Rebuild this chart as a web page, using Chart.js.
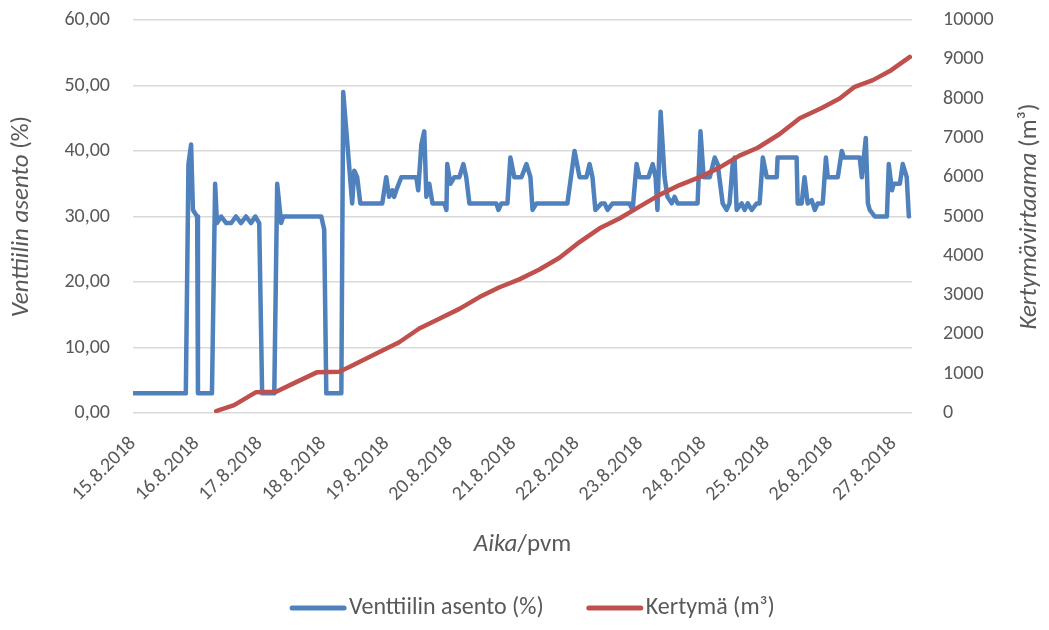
<!DOCTYPE html>
<html>
<head>
<meta charset="utf-8">
<script src="https://cdn.jsdelivr.net/npm/chart.js@4.4.1/dist/chart.umd.min.js"></script>
<style>
  html, body { margin: 0; padding: 0; background: #ffffff; }
  #wrap { width: 1049px; height: 630px; }
</style>
</head>
<body>
<div id="wrap"><canvas id="chart" width="1049" height="630"></canvas></div>
<script>
// Day labels on the time axis (one per 24 h)
const dayLabels = ['15.8.2018', '16.8.2018', '17.8.2018', '18.8.2018', '19.8.2018', '20.8.2018', '21.8.2018',
                   '22.8.2018', '23.8.2018', '24.8.2018', '25.8.2018', '26.8.2018', '27.8.2018'];

// Valve position: hours since 15.8.2018 00:00 and opening in %
const valveHours = [
  0, 20, 21, 22, 22.7, 24.3, 24.6, 29.9, 31.1, 31.8,
  33.4, 35.3, 37.2, 39, 40.9, 42.8, 44.7, 46.3, 47.8, 48.9,
  53.5, 54.6, 56.1, 56.9, 71.3, 72.4, 73.2, 78.9, 79.6, 83,
  83.8, 84.9, 86.1, 94.4, 95.9, 97, 98.2, 98.9, 99.7, 101.6,
  107.3, 108, 109.2, 110.3, 111.1, 112.2, 113.4, 117.9, 118.7, 119,
  120.2, 121.7, 123.6, 125.1, 126.2, 127.4, 137.6, 138.4, 139.5, 141.8,
  142.9, 144.4, 147.1, 149, 150.5, 151.3, 152.8, 164.5, 167.2, 169.1,
  171.7, 172.9, 174, 175.1, 177.4, 178.6, 179.7, 181.6, 188, 189.2,
  190.7, 191.8, 195.2, 196.8, 197.9, 198.6, 199.8, 201.3, 202.4, 204,
  205.1, 206.2, 213.8, 214.9, 216.1, 218.4, 220.3, 221.4, 223.3, 224.8,
  225.9, 227.1, 227.8, 228.6, 230.5, 231.6, 232.8, 234.3, 236.2, 237.3,
  238.5, 240, 243.8, 244.1, 251.3, 251.7, 253.2, 254.3, 255.5, 257,
  258.2, 259.3, 261.2, 262.4, 263.1, 266.9, 268.4, 269.2, 275.2, 276,
  277.5, 278.3, 279, 280.9, 285.5, 286.2, 287.4, 288.1, 290.4, 291.5,
  293, 293.8
];
const valvePct = [
  3, 3, 38, 41, 31, 30, 3, 3, 35, 29,
  30, 29, 29, 30, 29, 30, 29, 30, 29, 3,
  3, 35, 29, 30, 30, 28, 3, 3, 49, 32,
  37, 36, 32, 32, 36, 33, 34, 33, 34, 36,
  36, 34, 41, 43, 33, 35, 32, 32, 31, 38,
  35, 36, 36, 38, 36, 32, 32, 31, 32, 32,
  39, 36, 36, 38, 36, 31, 32, 32, 40, 36,
  36, 38, 36, 31, 32, 32, 31, 32, 32, 31,
  38, 36, 36, 38, 36, 31, 46, 36, 33, 32,
  33, 32, 32, 43, 36, 36, 39, 38, 32, 31,
  32, 38, 39, 31, 32, 31, 32, 31, 32, 32,
  39, 36, 36, 39, 39, 32, 32, 36, 32, 32.5,
  31, 32, 32, 39, 36, 36, 40, 39, 39, 36,
  42, 32, 31, 30, 30, 38, 34, 35, 35, 38,
  36, 30
];

// Cumulative flow: hours since 15.8.2018 00:00 and volume in m³
const flowHours = [
  31.5, 38.3, 46.6, 54.2, 61, 69.8, 78.1, 81.9, 85.7, 93.3,
  100.8, 108.4, 116, 123.6, 131.2, 138.8, 146.3, 153.9, 161.5, 169.1,
  176.7, 184.2, 191.8, 199.4, 207, 214.6, 222.2, 229.7, 236.6, 244.9,
  252.5, 260.8, 267.6, 273.3, 280.2, 286.6, 294.2
];
const flowM3 = [
  50, 200, 530, 540, 760, 1040, 1050, 1170, 1300, 1550,
  1800, 2150, 2400, 2650, 2950, 3200, 3400, 3650, 3950, 4350,
  4700, 4950, 5250, 5550, 5800, 6000, 6250, 6550, 6750, 7100,
  7500, 7760, 8000, 8300, 8470, 8700, 9060
];

const leftTicks = [0, 10, 20, 30, 40, 50, 60];
const rightTicks = [0, 1000, 2000, 3000, 4000, 5000, 6000, 7000, 8000, 9000, 10000];

const FONT = 'Carlito, Lato, sans-serif';
const TEXT = '#595959';
const BLUE = '#4f81bd';
const RED = '#c0504d';

// Draws a label made of differently styled pieces, centred on (cx, cy)
function drawPieces(ctx, pieces, cx, cy, angle) {
  ctx.save();
  ctx.translate(cx, cy);
  ctx.rotate(angle);
  ctx.fillStyle = TEXT;
  ctx.textBaseline = 'middle';
  ctx.textAlign = 'left';
  let total = 0;
  const widths = pieces.map(p => { ctx.font = p.font; const w = ctx.measureText(p.text).width; total += w; return w; });
  let x = -total / 2;
  pieces.forEach((p, i) => { ctx.font = p.font; ctx.fillText(p.text, x, 0); x += widths[i]; });
  ctx.restore();
}

const titlesAndLegend = {
  id: 'titlesAndLegend',
  afterDraw(chart) {
    const ctx = chart.ctx;
    const a = chart.chartArea;
    const midY = (a.top + a.bottom) / 2;
    const midX = (a.left + a.right) / 2;
    const it = 'italic 25px ' + FONT, up = '25px ' + FONT;
    drawPieces(ctx, [{ text: 'Venttiilin asento', font: it }, { text: ' (%)', font: up }], 22, midY, -Math.PI / 2);
    drawPieces(ctx, [{ text: 'Kertymävirtaama', font: it }, { text: ' (m³)', font: up }], 1030, midY, -Math.PI / 2);
    drawPieces(ctx, [{ text: 'Aika', font: it }, { text: '/pvm', font: up }], midX, 545, 0);

    // legend: line sample followed by the series name
    const lf = '24px ' + FONT, sample = 56, gap = 3, between = 43;
    ctx.save();
    ctx.font = lf;
    const items = chart.data.datasets.map(d => ({ label: d.label, color: d.borderColor, w: sample + gap + ctx.measureText(d.label).width }));
    const total = items.reduce((s, i) => s + i.w, 0) + between * (items.length - 1);
    let x = midX - total / 2 + 10;
    const y = 608;
    items.forEach(i => {
      ctx.strokeStyle = i.color;
      ctx.lineWidth = 5;
      ctx.lineCap = 'round';
      ctx.beginPath();
      ctx.moveTo(x + 2, y);
      ctx.lineTo(x + sample - 2, y);
      ctx.stroke();
      ctx.fillStyle = TEXT;
      ctx.textBaseline = 'middle';
      ctx.textAlign = 'left';
      ctx.fillText(i.label, x + sample + gap, y);
      x += i.w + between;
    });
    ctx.restore();
  }
};

// vertical axes: fixed width, and no extra room reserved above/below the plot
const fixVertical = width => s => { s.width = width; s.paddingTop = 0; s.paddingBottom = 0; };

new Chart(document.getElementById('chart'), {
  type: 'line',
  data: {
    datasets: [
      {
        label: 'Venttiilin asento (%)',
        data: valveHours.map((h, i) => ({ x: h, y: valvePct[i] })),
        borderColor: BLUE,
        backgroundColor: BLUE,
        borderWidth: 4.5,
        pointRadius: 0,
        borderJoinStyle: 'round',
        borderCapStyle: 'round',
        yAxisID: 'y',
        order: 2
      },
      {
        label: 'Kertymä (m³)',
        data: flowHours.map((h, i) => ({ x: h, y: flowM3[i] })),
        borderColor: RED,
        backgroundColor: RED,
        borderWidth: 4.5,
        pointRadius: 0,
        borderJoinStyle: 'round',
        borderCapStyle: 'round',
        yAxisID: 'y2',
        order: 1
      }
    ]
  },
  options: {
    responsive: false,
    animation: false,
    devicePixelRatio: 1,
    layout: { padding: { top: 20, right: 0, bottom: 0, left: 0 } },
    plugins: { legend: { display: false }, tooltip: { enabled: false } },
    scales: {
      x: {
        type: 'linear',
        min: 0,
        max: 295,
        afterBuildTicks: s => { s.ticks = dayLabels.map((_, i) => ({ value: i * 24 })); },
        afterFit: s => { s.height = 630 - 413; },
        ticks: {
          callback: v => dayLabels[Math.round(v / 24)],
          autoSkip: false,
          minRotation: 45,
          maxRotation: 45,
          padding: 19,
          color: TEXT,
          font: { family: FONT, size: 20 }
        },
        grid: { display: false, drawTicks: false },
        border: { display: false }
      },
      y: {
        position: 'left',
        min: 0,
        max: 60,
        afterBuildTicks: s => { s.ticks = leftTicks.map(v => ({ value: v })); },
        afterFit: fixVertical(133),
        ticks: {
          callback: v => v.toFixed(2).replace('.', ','),
          padding: 23,
          color: TEXT,
          font: { family: FONT, size: 20 }
        },
        grid: { color: '#d9d9d9', lineWidth: 1.5, drawTicks: false },
        border: { display: false }
      },
      y2: {
        position: 'right',
        min: 0,
        max: 10000,
        afterBuildTicks: s => { s.ticks = rightTicks.map(v => ({ value: v })); },
        afterFit: fixVertical(1049 - 912),
        ticks: {
          callback: v => String(v),
          padding: 31,
          color: TEXT,
          font: { family: FONT, size: 20 }
        },
        grid: { display: false, drawTicks: false },
        border: { display: false }
      }
    }
  },
  plugins: [titlesAndLegend]
});
</script>
</body>
</html>
